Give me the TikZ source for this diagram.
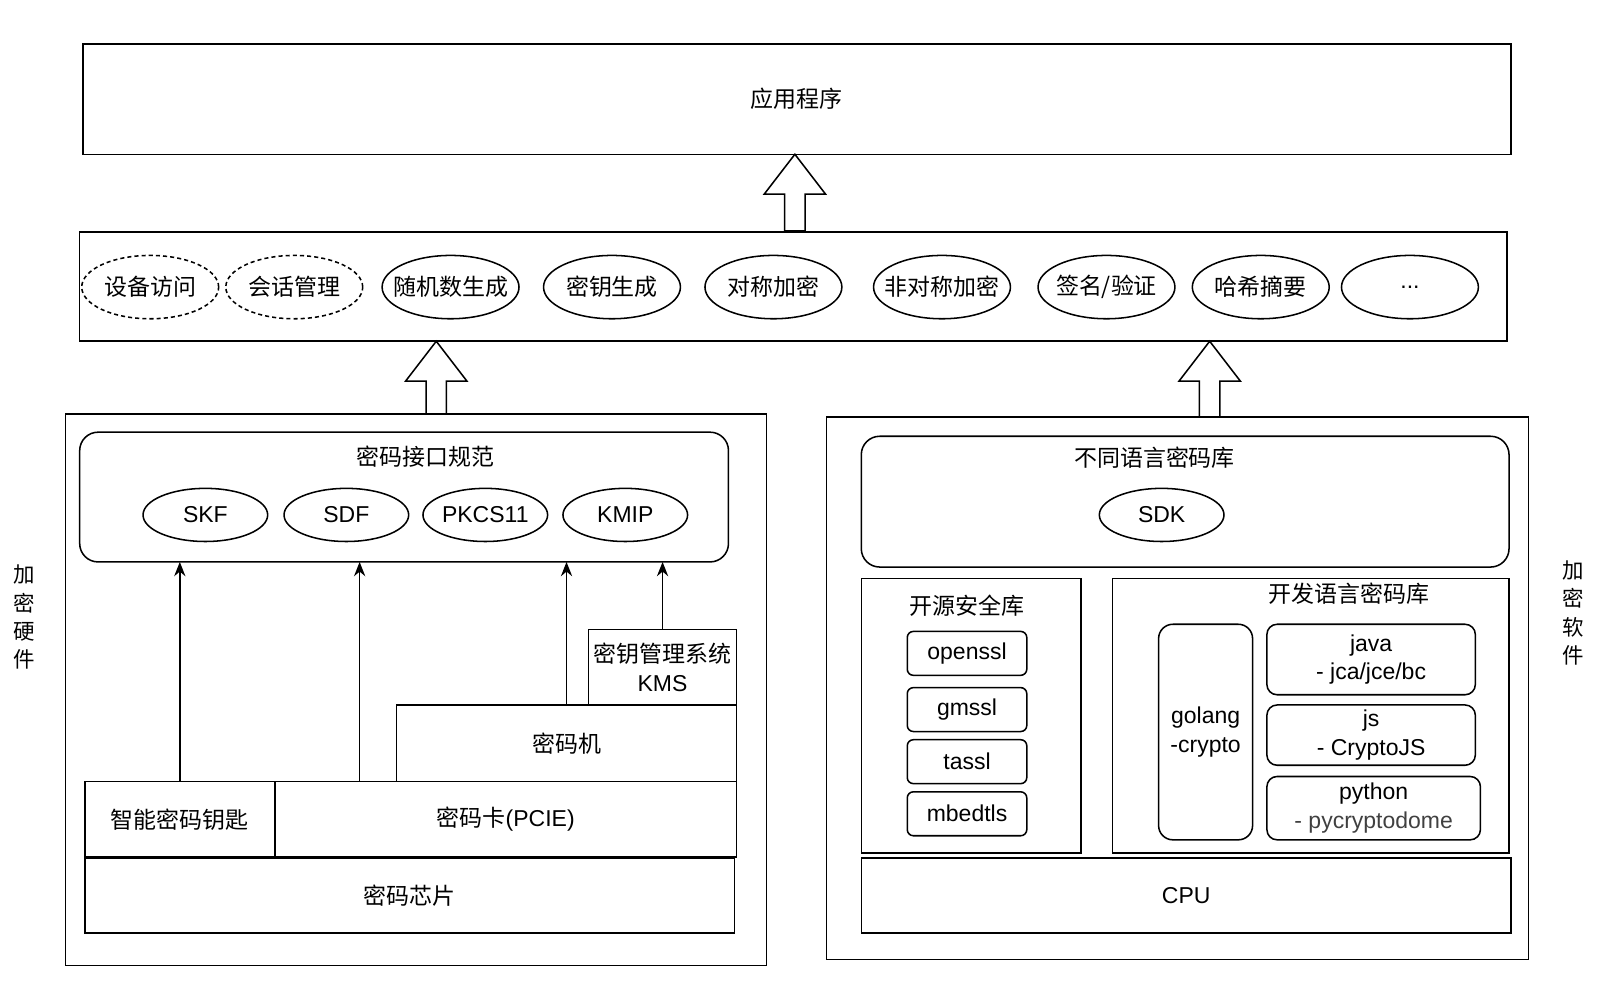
\documentclass[tikz,border=0pt]{standalone}
\usepackage{fontspec}
\setmainfont{Liberation Sans}
\newfontfamily\cjk{Noto Sans CJK SC}
\usetikzlibrary{arrows.meta, shapes.geometric}

\newcommand\tight[1]{\makebox[0pt]{#1}}

\tikzset{
    pics/fatarrow/.style={code={
        \draw[line width=1.5pt, fill=white] (0,0) -- (30,39) -- (10,39) -- (10,#1)
            -- (-10,#1) -- (-10,39) -- (-30,39) -- cycle;
    }}
}

\begin{document}
\begin{tikzpicture}[
    x=1pt, y=-1pt,
    font=\fontsize{22.5}{28}\selectfont,
    cn/.style={font=\cjk\fontsize{22.5}{28}\selectfont},
    side/.style={font=\cjk\fontsize{21}{27.5}\selectfont, align=center},
    box/.style={
        draw,
        line width=1.5pt,
        inner sep=0pt,
        outer sep=0pt,
        align=center
    },
    frame/.style={box, rounded corners=18pt},
    smallbox/.style={box, rounded corners=6pt, minimum width=117pt, minimum height=43pt},
    langbox/.style={box, rounded corners=10pt},
    oval/.style={box, ellipse, minimum width=134pt, minimum height=62pt},
    dashoval/.style={oval, dash pattern=on 4pt off 3pt},
    spec/.style={box, ellipse, minimum width=122pt, minimum height=52pt},
    arrow/.style={-{Stealth[length=14pt, width=11pt]}, line width=1.5pt}
]
\useasboundingbox (0,0) rectangle (1568,961);

% top layers
\node[box, cn, minimum width=1398pt, minimum height=108pt] (app) at (780,97) {应用程序};
\node[box, minimum width=1397pt, minimum height=107pt] (func) at (776.5,280.5) {};

\node[dashoval, cn] (devacc) at (147,281) {\tight{设备访问}};
\node[dashoval, cn] (session) at (288,281) {\tight{会话管理}};
\node[oval, cn] (rand) at (441,281) {\tight{随机数生成}};
\node[oval, cn] (keygen) at (599,281) {\tight{密钥生成}};
\node[oval, cn] (sym) at (757,281) {\tight{对称加密}};
\node[oval, cn] (asym) at (922,281) {\tight{非对称加密}};
\node[oval, cn] (sign) at (1083,281) {\tight{签名/验证}};
\node[oval, cn] (hash) at (1234,281) {\tight{哈希摘要}};
\node[oval] (more) at (1380,281) {\tight{...}};

\pic at (778,151) {fatarrow=75};
\pic at (427,334) {fatarrow=71};
\pic at (1184,334) {fatarrow=74};

% hardware
\node[box, minimum width=686pt, minimum height=540pt] (hw) at (407,675) {};
\node[side] (hwlabel) at (24,604) {加\\密\\硬\\件};

\node[frame, minimum width=635pt, minimum height=127pt] (iface) at (395.5,486.5) {};
\node[cn] (ifacetitle) at (416,447) {密码接口规范};
\node[spec] (skf) at (201,504) {SKF};
\node[spec] (sdf) at (339,504) {SDF};
\node[spec] (pkcs) at (475,504) {PKCS11};
\node[spec] (kmip) at (612,504) {KMIP};

\node[box, minimum width=145pt, minimum height=74pt] (kms) at (648.5,653) {{\cjk 密钥管理系统}\\KMS};
\node[box, cn, minimum width=333pt, minimum height=75pt] (hsm) at (554.5,727.5) {密码机};
\node[box, cn, minimum width=186pt, minimum height=74pt] (ukey) at (176,802) {智能密码钥匙};
\node[box, minimum width=452pt, minimum height=74pt] (card) at (495,802) {{\cjk 密码卡}(PCIE)};
\node[box, cn, minimum width=636pt, minimum height=73pt] (chip) at (401,876.5) {密码芯片};

\coordinate (cardtop) at ([xshift=83pt]card.north west);
\draw[arrow] (ukey.north) -- (ukey.north |- iface.south);
\draw[arrow] (cardtop) -- (cardtop |- iface.south);
\draw[arrow] (hsm.north) -- (hsm.north |- iface.south);
\draw[arrow] (kms.north) -- (kms.north |- iface.south);

% software
\node[box, minimum width=687pt, minimum height=531pt] (sw) at (1152.5,673.5) {};
\node[side] (swlabel) at (1540,600) {加\\密\\软\\件};

\node[frame, minimum width=634pt, minimum height=128pt] (libs) at (1160,491) {};
\node[cn] (libstitle) at (1130,448) {不同语言密码库};
\node[spec] (sdk) at (1137,504) {SDK};

\node[box, minimum width=215pt, minimum height=269pt] (oss) at (950.5,700.5) {};
\node[cn] (osstitle) at (946,593) {开源安全库};
\node[smallbox] (openssl) at (946.5,639.5) {openssl};
\node[smallbox] (gmssl) at (946.5,694.5) {gmssl};
\node[smallbox] (tassl) at (946.5,745.5) {tassl};
\node[smallbox] (mbedtls) at (946.5,796.5) {mbedtls};

\node[box, minimum width=388pt, minimum height=269pt] (dev) at (1283,700.5) {};
\node[cn] (devtitle) at (1320,581) {开发语言密码库};
\node[langbox, rounded corners=14pt, minimum width=92pt, minimum height=211pt] (golang) at (1180,716.5) {golang\\-crypto};
\node[langbox, minimum width=204pt, minimum height=69pt] (java) at (1342,645.5) {java\\- jca/jce/bc};
\node[langbox, minimum width=204pt, minimum height=59pt] (js) at (1342,719.5) {js\\- CryptoJS};
\node[langbox, minimum width=209pt, minimum height=62pt] (python) at (1344.5,791) {python\\\textcolor{black!75}{- pycryptodome}};

\node[box, minimum width=636pt, minimum height=73pt] (cpu) at (1161,876.5) {CPU};
\end{tikzpicture}
\end{document}
